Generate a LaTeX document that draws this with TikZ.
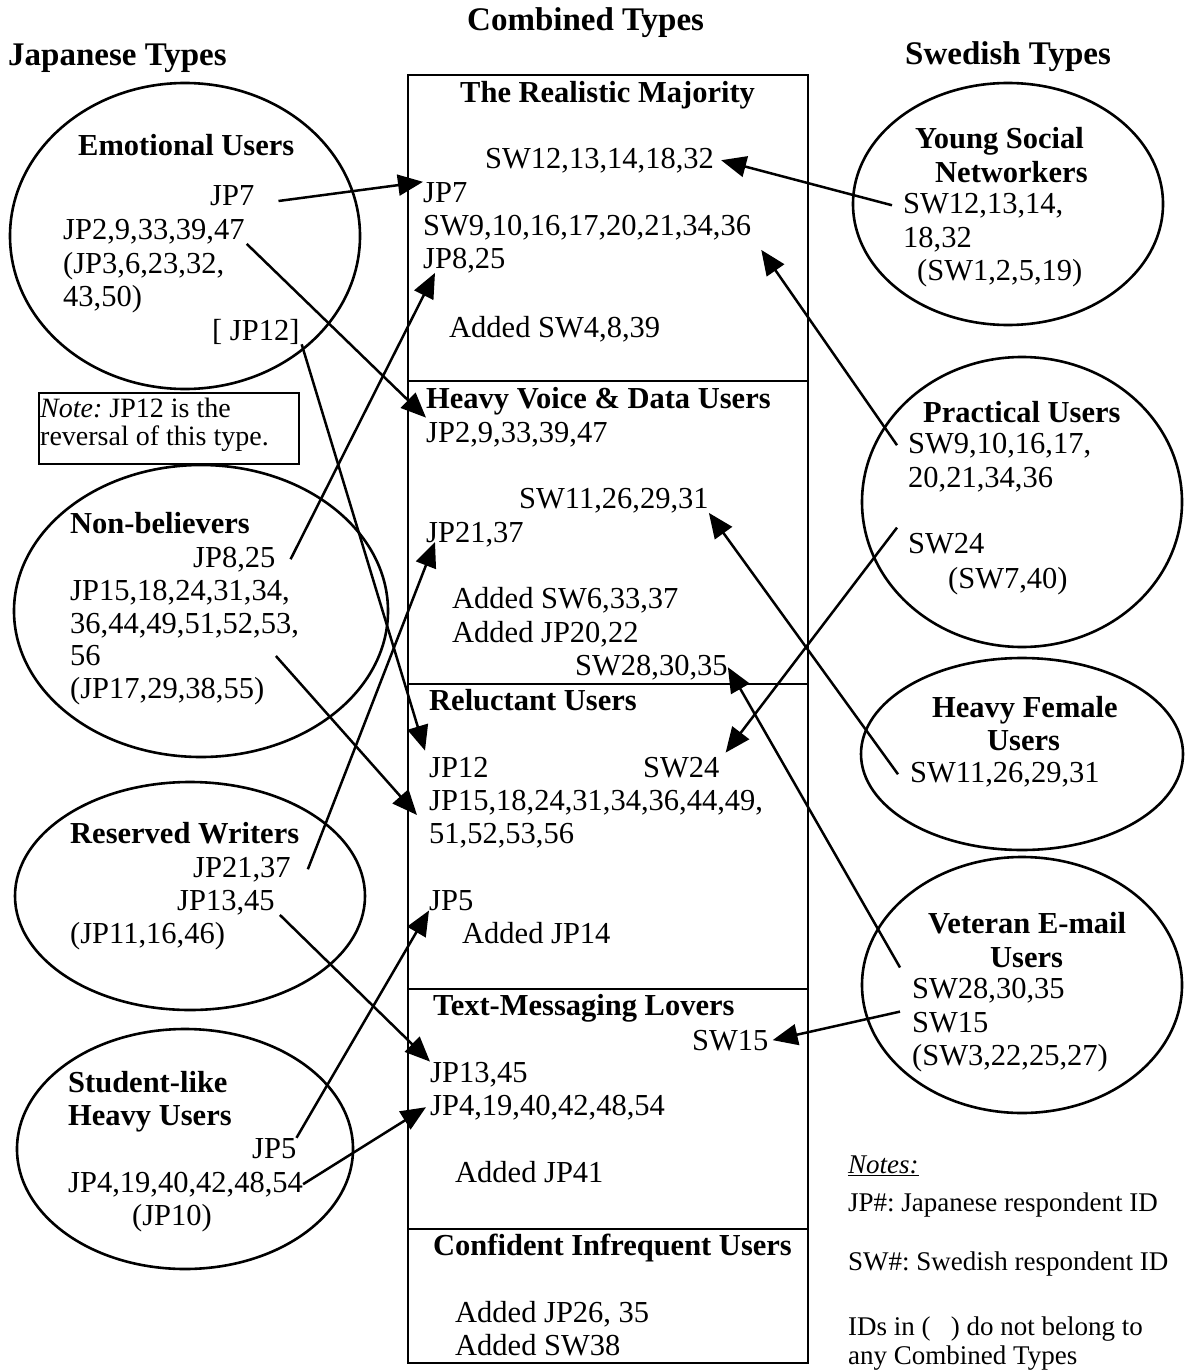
\documentclass[tikz,border=0pt]{standalone}
\usepackage{fontspec}
\setmainfont{Liberation Serif}
\usepackage{tikz}
\usetikzlibrary{arrows.meta, positioning, shapes.geometric}
\frenchspacing

\begin{document}
\begin{tikzpicture}[x=1pt, y=-1pt,
    txt/.style={anchor=base west, inner sep=0pt, font=\fontsize{30.5}{33.5}\selectfont},
    hd/.style={txt, font=\fontsize{30.5}{33.5}\selectfont\bfseries},
    ttl/.style={txt, font=\fontsize{33}{36}\selectfont\bfseries},
    notetxt/.style={txt, font=\fontsize{28}{30}\selectfont},
    legend/.style={txt, font=\fontsize{27}{30}\selectfont},
    typeell/.style={draw, ellipse, line width=2.6pt, inner sep=0pt},
    sect/.style={draw, rectangle, line width=2.2pt, minimum width=400pt, anchor=north west, inner sep=0pt},
    link/.style={line width=2.5pt, -{Triangle[length=25pt,width=21pt]}}]
    \useasboundingbox (0,0) rectangle (1185,1370);

    % 标题
    \node (ctitle) [ttl] at (467,31) {Combined Types};
    \node (jtitle) [ttl] at (8,66) {Japanese Types};
    \node (stitle) [ttl] at (905,65) {Swedish Types};

    % 椭圆
    \foreach \n/\cx/\cy/\w/\h in {emoE/185/236/350/306, nbE/201/611/374/292,
        rwE/190/896/350/228, stE/185/1149/336/240, ysE/1008/204/310/242,
        prE/1022/502/320/290, hfE/1022/754/322/192, veE/1022/985/320/256} {
        \node (\n) [typeell, minimum width=\w pt, minimum height=\h pt] at (\cx,\cy) {};
    }

    % 中间的框
    \foreach \n/\ty/\h in {secRM/74/306, secHV/380/303, secRL/683/305,
        secTM/988/240, secCI/1228/134} {
        \node (\n) [sect, minimum height=\h pt] at (407,\ty) {};
    }

    % Emotional Users
    \node (emHead) [hd] at (78,155) {Emotional Users};
    \node (emJPseven) [txt] at (210,205) {JP7};
    \node (emJPtwo) [txt] at (63,239) {JP2,9,33,39,47};
    \node (emRestA) [txt] at (63,273) {(JP3,6,23,32,};
    \node (emRestB) [txt] at (63,306) {43,50)};
    \node (emJPtwelve) [txt] at (212,340) {[ JP12]};

    % 注释框
    \node (notebox) [draw, rectangle, line width=2.2pt, anchor=north west, inner sep=0pt,
        minimum width=260pt, minimum height=71pt] at (38,392) {};
    \node (noteA) [notetxt] at (40,417) {\textit{Note:} JP12 is the};
    \node (noteB) [notetxt] at (40,445) {reversal of this type.};

    % Non-believers
    \node (nbHead) [hd] at (70,533) {Non-believers};
    \node (nbJPeight) [txt] at (193,567) {JP8,25};
    \node (nbLineA) [txt] at (70,600) {JP15,18,24,31,34,};
    \node (nbLineB) [txt] at (70,633) {36,44,49,51,52,53,};
    \node (nbLineC) [txt] at (70,665) {56};
    \node (nbRest) [txt] at (70,698) {(JP17,29,38,55)};

    % Reserved Writers
    \node (rwHead) [hd] at (70,843) {Reserved Writers};
    \node (rwJPtwentyone) [txt] at (193,877) {JP21,37};
    \node (rwJPthirteen) [txt] at (177,910) {JP13,45};
    \node (rwRest) [txt] at (70,943) {(JP11,16,46)};

    % Student-like Heavy Users
    \node (stHeadA) [hd] at (68,1092) {Student-like};
    \node (stHeadB) [hd] at (68,1125) {Heavy Users};
    \node (stJPfive) [txt] at (252,1158) {JP5};
    \node (stJPfour) [txt] at (68,1192) {JP4,19,40,42,48,54};
    \node (stRest) [txt] at (132,1225) {(JP10)};

    % Young Social Networkers
    \node (ysHeadA) [hd] at (915,148) {Young Social};
    \node (ysHeadB) [hd] at (935,182) {Networkers};
    \node (ysSW) [txt] at (903,213) {SW12,13,14,};
    \node (ysSWb) [txt] at (903,247) {18,32};
    \node (ysRest) [txt] at (917,280) {(SW1,2,5,19)};

    % Practical Users
    \node (prHead) [hd] at (923,422) {Practical Users};
    \node (prSWnine) [txt] at (908,453) {SW9,10,16,17,};
    \node (prSWnineB) [txt] at (908,487) {20,21,34,36};
    \node (prSWtf) [txt] at (908,553) {SW24};
    \node (prRest) [txt] at (948,588) {(SW7,40)};

    % Heavy Female Users
    \node (hfHeadA) [hd] at (932,717) {Heavy Female};
    \node (hfHeadB) [hd] at (987,750) {Users};
    \node (hfSW) [txt] at (910,782) {SW11,26,29,31};

    % Veteran E-mail Users
    \node (veHeadA) [hd] at (928,933) {Veteran E-mail};
    \node (veHeadB) [hd] at (990,967) {Users};
    \node (veSWtwentyeight) [txt] at (912,998) {SW28,30,35};
    \node (veSWfifteen) [txt] at (912,1032) {SW15};
    \node (veRest) [txt] at (912,1065) {(SW3,22,25,27)};

    % The Realistic Majority
    \node (rmHead) [hd] at (460,103) {The Realistic Majority};
    \node (rmSWtwelve) [txt] at (485,168) {SW12,13,14,18,32};
    \node (rmJPseven) [txt] at (423,202) {JP7};
    \node (rmSWnine) [txt] at (423,235) {SW9,10,16,17,20,21,34,36};
    \node (rmJPeight) [txt] at (423,268) {JP8,25};
    \node (rmAdded) [txt] at (449,337) {Added SW4,8,39};

    % Heavy Voice & Data Users
    \node (hvHead) [hd] at (426,408) {Heavy Voice \& Data Users};
    \node (hvJPtwo) [txt] at (426,442) {JP2,9,33,39,47};
    \node (hvSWeleven) [txt] at (519,508) {SW11,26,29,31};
    \node (hvJPtwentyone) [txt] at (426,542) {JP21,37};
    \node (hvAddedA) [txt] at (452,608) {Added SW6,33,37};
    \node (hvAddedB) [txt] at (452,642) {Added JP20,22};
    \node (hvSWtwentyeight) [txt] at (575,675) {SW28,30,35};

    % Reluctant Users
    \node (rlHead) [hd] at (429,710) {Reluctant Users};
    \node (rlJPtwelve) [txt] at (429,777) {JP12};
    \node (rlSWtf) [txt] at (643,777) {SW24};
    \node (rlLineA) [txt] at (429,810) {JP15,18,24,31,34,36,44,49,};
    \node (rlLineB) [txt] at (429,843) {51,52,53,56};
    \node (rlJPfive) [txt] at (429,910) {JP5};
    \node (rlAdded) [txt] at (462,943) {Added JP14};

    % Text-Messaging Lovers
    \node (tmHead) [hd] at (433,1015) {Text-Messaging Lovers};
    \node (tmSWfifteen) [txt] at (692,1050) {SW15};
    \node (tmJPthirteen) [txt] at (430,1082) {JP13,45};
    \node (tmJPfour) [txt] at (430,1115) {JP4,19,40,42,48,54};
    \node (tmAdded) [txt] at (455,1182) {Added JP41};

    % Confident Infrequent Users
    \node (ciHead) [hd] at (433,1255) {Confident Infrequent Users};
    \node (ciAddedA) [txt] at (455,1322) {Added JP26, 35};
    \node (ciAddedB) [txt] at (455,1355) {Added SW38};

    % 说明
    \node (ntHead) [legend] at (848,1173) {\underline{\textit{Notes:}}};
    \node (ntJP) [legend] at (848,1211) {JP\#: Japanese respondent ID};
    \node (ntSW) [legend] at (848,1270) {SW\#: Swedish respondent ID};
    \node (ntIDa) [legend] at (848,1335) {IDs in (\ \ \ ) do not belong to};
    \node (ntIDb) [legend] at (848,1364) {any Combined Types};

    % 箭头: 日本类型
    \draw[link] ([xshift=24pt,yshift=4pt]emJPseven.base east) -- (rmJPseven.north west);
    \draw[link] ([xshift=2pt]emJPtwo.south east) -- ([yshift=4pt]hvJPtwo.north west);
    \draw[link] ([xshift=2pt]emJPtwelve.south east) -- ([xshift=-4pt,yshift=6pt]rlJPtwelve.north west);
    \draw[link] ([xshift=15pt]nbJPeight.east) -- ([xshift=12pt]rmJPeight.south west);
    \draw[link] ([xshift=175pt,yshift=9pt]nbLineC.base east) -- ([xshift=-12pt,yshift=-5pt]rlLineA.base west);
    \draw[link] ([xshift=17pt]rwJPtwentyone.east) -- ([xshift=9pt]hvJPtwentyone.base west);
    \draw[link] ([xshift=5pt]rwJPthirteen.south east) -- (tmJPthirteen.north west);
    \draw[link] (stJPfive.north east) -- (rlJPfive.south west);
    \draw[link] (stJPfour.east) -- ([xshift=-4pt]tmJPfour.west);

    % 箭头: 瑞典类型
    \draw[link] ([xshift=-11pt]ysSW.west) -- ([xshift=7pt]rmSWtwelve.east);
    \draw[link] ([xshift=-11pt]prSWnine.west) -- ([xshift=10pt,yshift=-10pt]rmSWnine.south east);
    \draw[link] ([xshift=-11pt,yshift=5pt]prSWtf.north west) -- ([xshift=6pt,yshift=4pt]rlSWtf.north east);
    \draw[link] ([xshift=-12pt]hfSW.west) -- (hvSWeleven.south east);
    \draw[link] ([xshift=-12pt,yshift=10pt]veSWtwentyeight.north west) -- (hvSWtwentyeight.east);
    \draw[link] ([xshift=-12pt]veSWfifteen.north west) -- ([xshift=4pt]tmSWfifteen.east);
\end{tikzpicture}
\end{document}
